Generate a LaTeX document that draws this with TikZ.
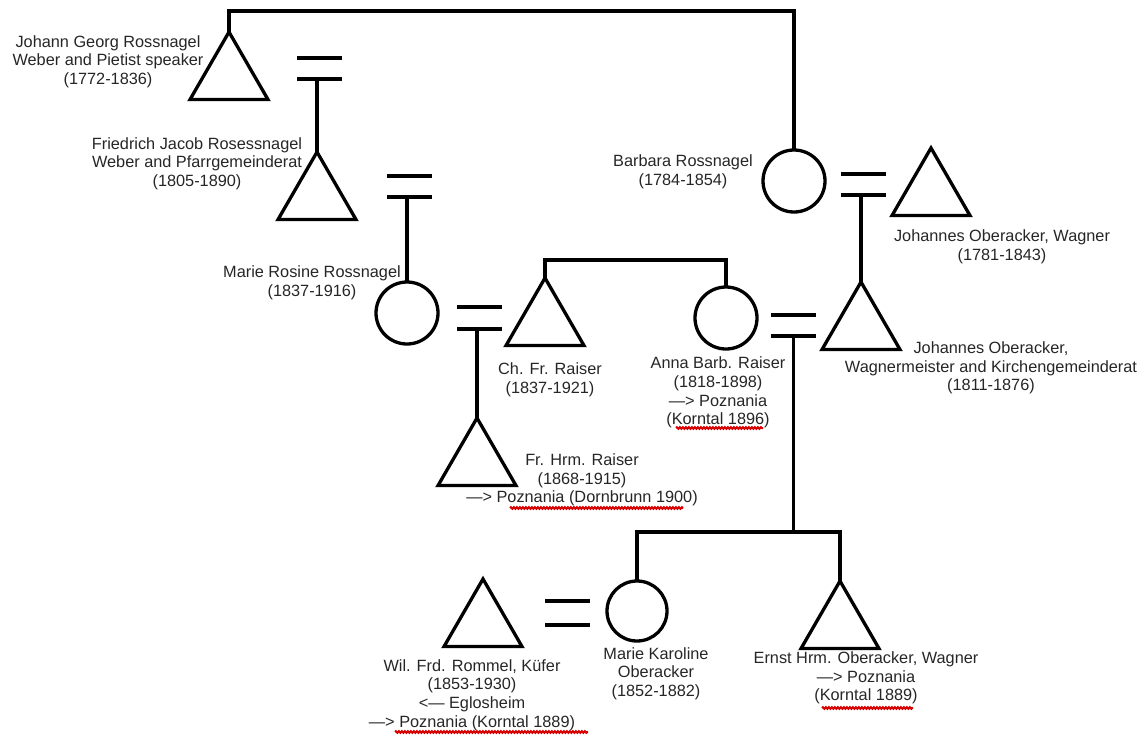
\documentclass[tikz,border=0pt]{standalone}
\usepackage{fontspec}
\setmainfont{Liberation Sans}
\usetikzlibrary{shapes.geometric, decorations.pathmorphing}

\begin{document}
\begin{tikzpicture}[
    x=1pt, y=-1pt,
    every node/.style={inner sep=0pt, outer sep=0pt},
    male/.style={draw, regular polygon, regular polygon sides=3, minimum size=90pt, line width=3.3pt},
    female/.style={draw, circle, minimum size=62pt, line width=3.3pt},
    wed/.style={minimum width=45pt, minimum height=21pt},
    tie/.style={line width=3.3pt},
    info/.style={align=center, font=\fontsize{16.3}{18.6}\selectfont, text=black!85},
    spell/.style={draw=red!85!black, line width=2pt, decorate, decoration={snake, amplitude=0.8pt, segment length=3pt}},
]
\useasboundingbox (0,0) rectangle (1143,736);

% generation 1
\node[male] (jgr) at (229,77) {};
\node[wed] (w1) at (319.5,68.5) {};
\node[female] (barb) at (794,181) {};
\node[wed] (w4) at (863,184.5) {};
\node[male] (jos) at (931,193) {};

% generation 2
\node[male] (fjr) at (317,197) {};
\node[wed] (w2) at (409.5,186.5) {};
\node[male] (jow) at (861,327) {};

% generation 3
\node[female] (mrr) at (407,313) {};
\node[wed, minimum height=22pt] (w3) at (479.5,318) {};
\node[male] (cfr) at (545,323) {};
\node[female] (anna) at (726,318) {};
\node[wed] (w5) at (793.5,325.5) {};

% generation 4
\node[male] (fhr) at (477,463) {};
\node[male] (wfr) at (483,624) {};
\node[wed, minimum height=24pt] (w6) at (567.5,613) {};
\node[female, minimum size=60pt] (mko) at (637,611) {};
\node[male] (ehr) at (840,626) {};

% labels
\node[info] (jgr-t) at (108,61.5) {Johann Georg Rossnagel\\Weber and Pietist speaker\\(1772-1836)};
\node[info] (fjr-t) at (197,163.5) {Friedrich Jacob Rosessnagel\\Weber and Pfarrgemeinderat\\(1805-1890)};
\node[info] (barb-t) at (683,171.5) {Barbara Rossnagel\\(1784-1854)};
\node[info] (jos-t) at (1002,247) {Johannes Oberacker, Wagner\\(1781-1843)};
\node[info] (mrr-t) at (312,282.5) {Marie Rosine Rossnagel\\(1837-1916)};
\node[info] (cfr-t) at (550,380) {Ch. Fr. Raiser\\(1837-1921)};
\node[info] (anna-t) at (718,392.5) {Anna Barb. Raiser\\(1818-1898)\\—> Poznania\\(Korntal 1896)};
\node[info] (jow-t) at (991,368) {Johannes Oberacker,\\Wagnermeister and Kirchengemeinderat\\(1811-1876)};
\node[info] (fhr-t) at (582,480) {Fr. Hrm. Raiser\\(1868-1915)\\—> Poznania (Dornbrunn 1900)};
\node[info] (mko-t) at (656,673.5) {Marie Karoline\\Oberacker\\(1852-1882)};
\node[info] (wfr-t) at (472,695) {Wil. Frd. Rommel, Küfer\\(1853-1930)\\<— Eglosheim\\—> Poznania (Korntal 1889)};
\node[info] (ehr-t) at (866,678) {Ernst Hrm. Oberacker, Wagner\\—> Poznania\\(Korntal 1889)};

% marriages
\foreach \w in {w1,w2,w3,w4,w5,w6}
    \draw[tie] (\w.north west) -- (\w.north east) (\w.south west) -- (\w.south east);

% descent lines
\coordinate (top) at (0,11);
\coordinate (sib1) at (0,260);
\coordinate (sib2) at (0,532);
\draw[tie] (jgr.north) -- (jgr.north |- top) -| (barb.north);
\draw[tie] (fjr.north |- w1.south) -- (fjr.north);
\draw[tie] (mrr.north |- w2.south) -- (mrr.north);
\draw[tie] (jow.north |- w4.south) -- (jow.north);
\draw[tie] (cfr.north) -- (cfr.north |- sib1) -| (anna.north);
\draw[tie] (fhr.north |- w3.south) -- (fhr.north);
\draw[tie] (w5.south) -- (w5.south |- sib2);
\draw[tie] (mko.north) -- (mko.north |- sib2) -| (ehr.north);

% spell-check marks
\draw[spell] (676,428) -- (763,428);
\draw[spell] (510,508) -- (683,508);
\draw[spell] (395,732) -- (588,732);
\draw[spell] (822,708) -- (913,708);

\end{tikzpicture}
\end{document}
